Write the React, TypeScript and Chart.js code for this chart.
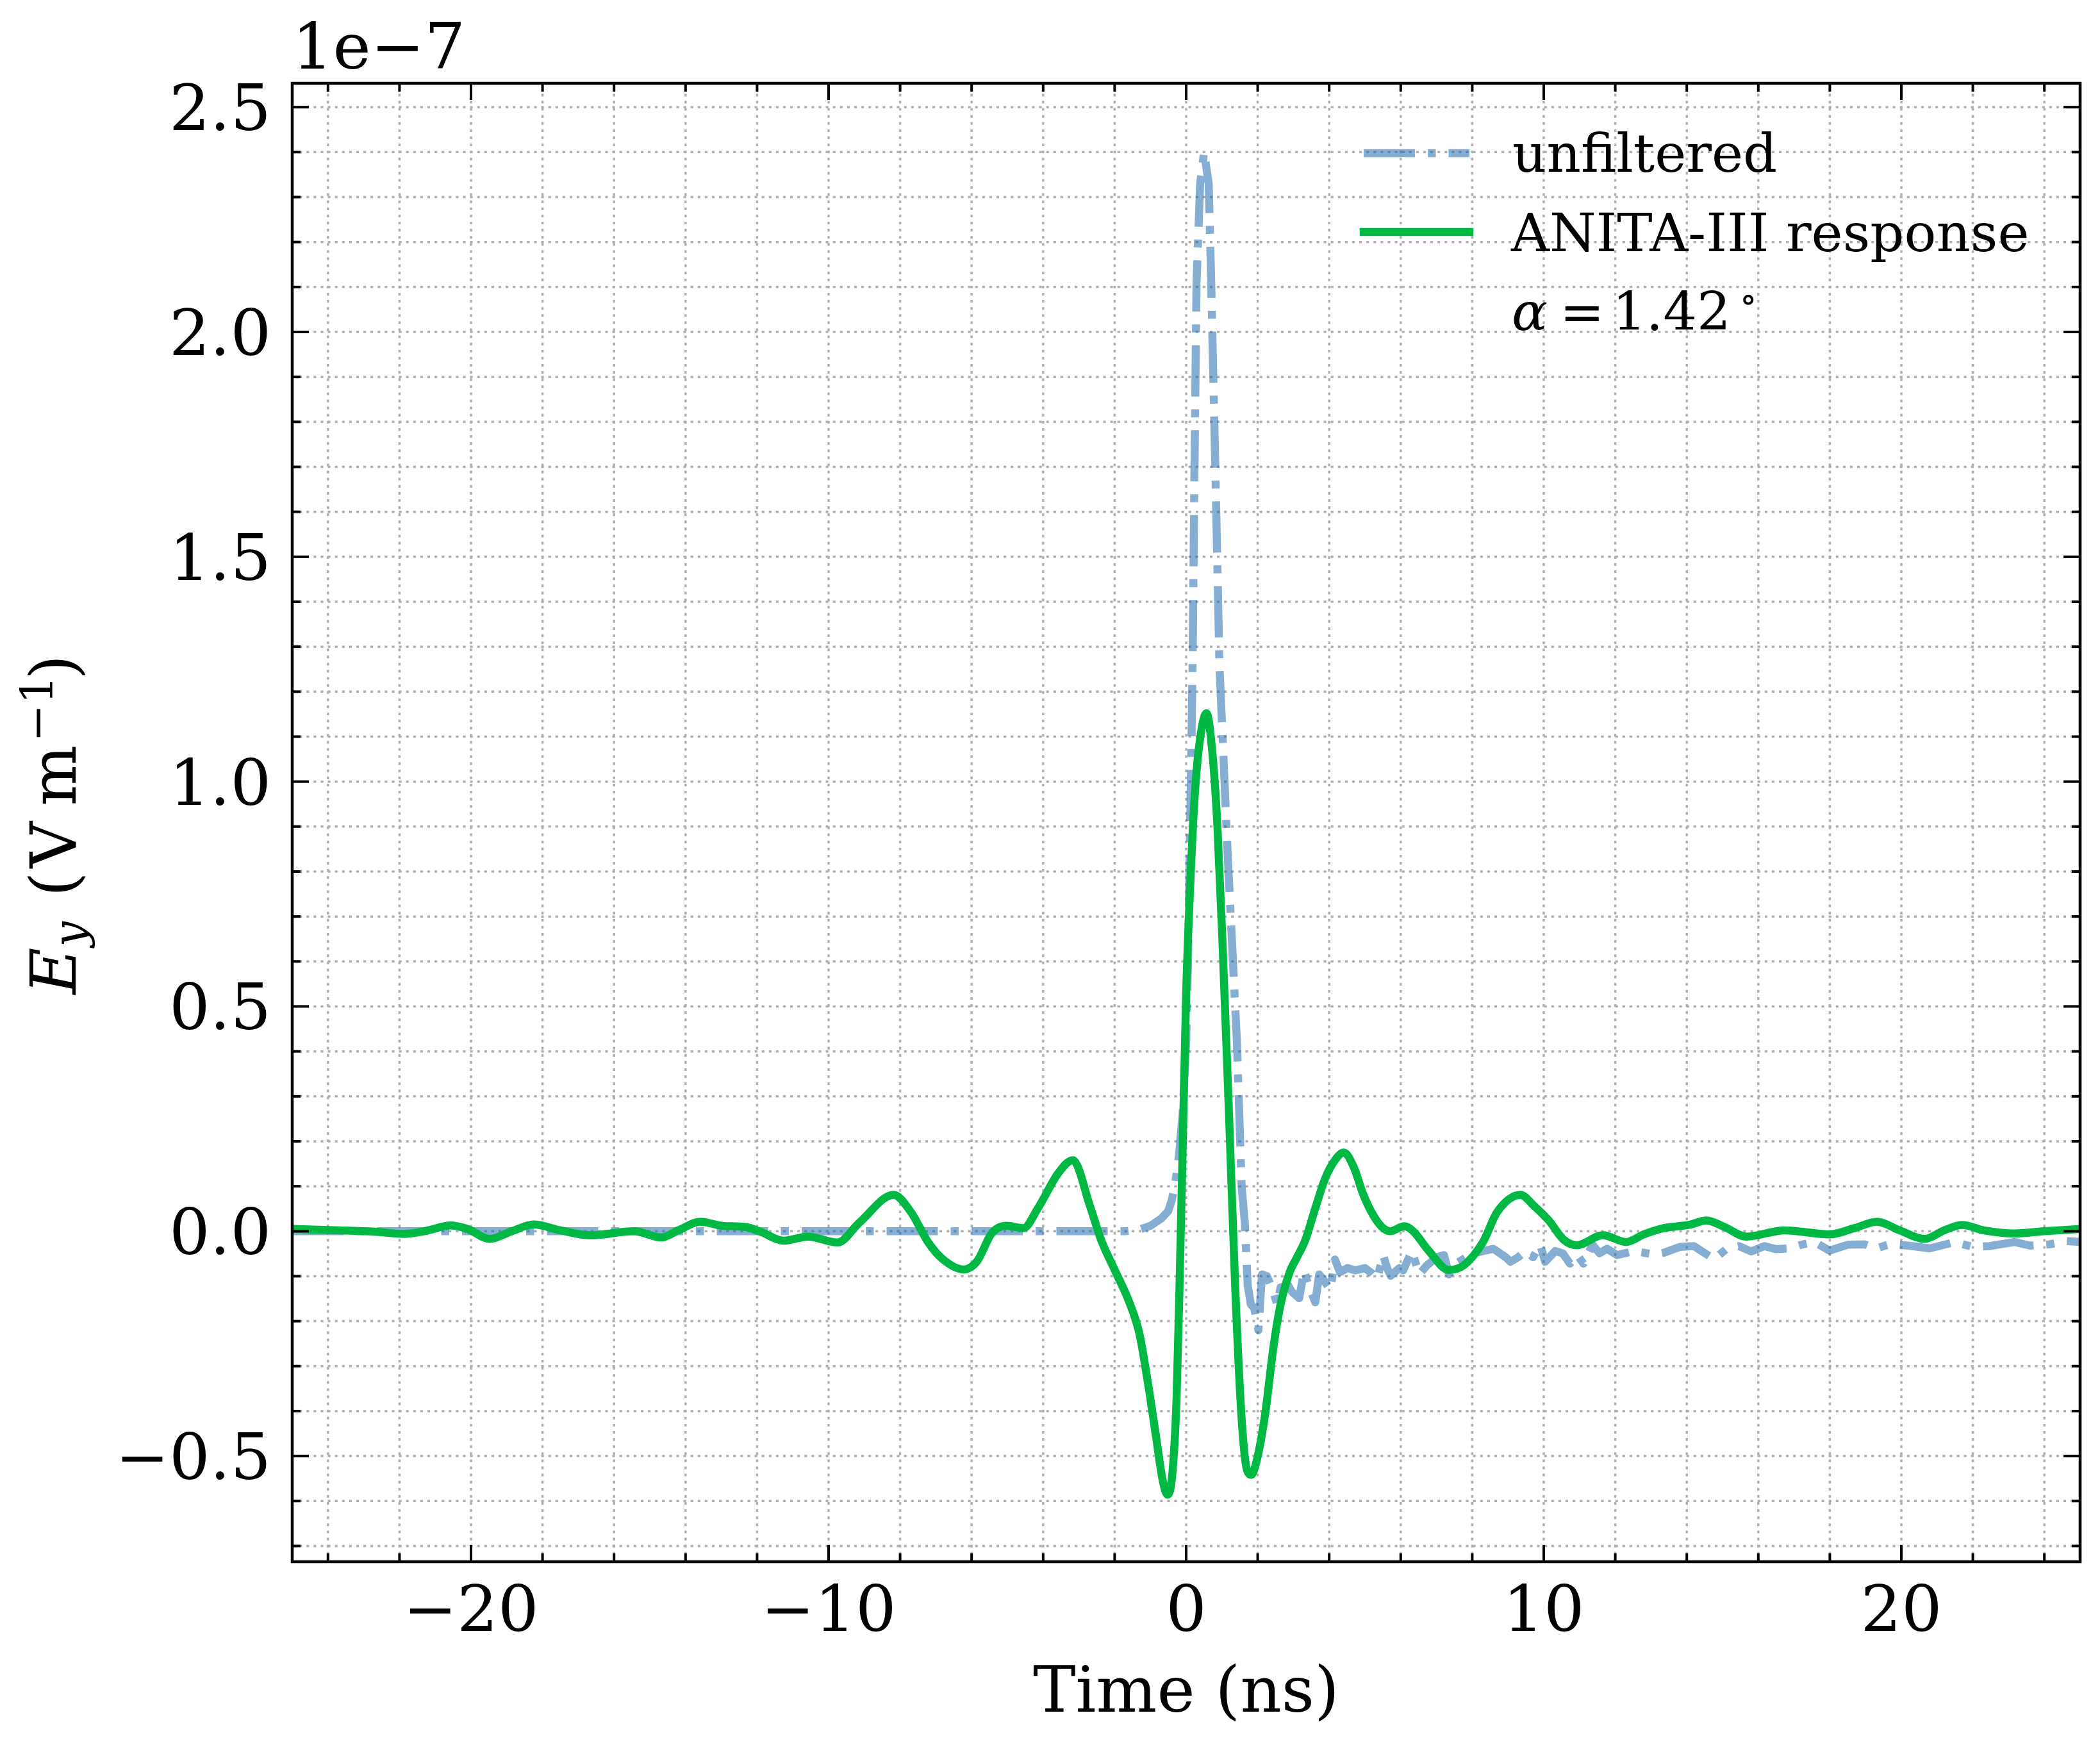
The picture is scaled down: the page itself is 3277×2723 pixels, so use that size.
import React, { useEffect, useRef } from 'react';
import { Chart, registerables } from 'chart.js';

Chart.register(...registerables);

// ---------- data (values in units of 1e-7 V/m, time in ns) ----------
const responseTime = [
  -25, -23.66, -22.7, -21.88, -21.2, -20.58, -20.1, -19.48, -18.86, -18.25, -17.5, -16.67, -15.44,
  -14.68, -14.2, -13.59, -12.97, -12.29, -11.88, -11.26, -10.58, -9.75, -9.14, -8.18, -7.7, -7.22,
  -6.81, -6.23, -5.85, -5.44, -5.03, -4.55, -4.14, -3.57, -3.17, -2.69, -2.39, -1.97, -1.61, -1.31,
  -1.08, -0.84, -0.66, -0.52, -0.39, -0.27, -0.18, -0.09, 0.0, 0.12, 0.24, 0.39, 0.57, 0.72, 0.87,
  1.02, 1.2, 1.37, 1.55, 1.7, 1.82, 1.97, 2.21, 2.44, 2.64, 2.9, 3.1, 3.33, 3.61, 3.89, 4.16, 4.41,
  4.7, 4.95, 5.37, 5.7, 6.1, 6.35, 6.78, 7.34, 7.76, 8.3, 8.7, 9.35, 9.72, 10.14, 10.56, 10.92, 11.65,
  12.31, 12.8, 13.36, 14.06, 14.55, 15.04, 15.67, 16.73, 17.99, 18.69, 19.32, 19.95, 20.65, 21.2,
  21.7, 22.3, 23.17, 24.0, 25,
];
const responseValue = [
  0.005, 0.002, -0.001, -0.006, 0.002, 0.013, 0.005, -0.017, 0.0, 0.015, 0.002, -0.009, 0.0,
  -0.014, 0.002, 0.021, 0.012, 0.009, -0.002, -0.021, -0.012, -0.025, 0.019, 0.081, 0.043, -0.024,
  -0.062, -0.085, -0.067, -0.005, 0.012, 0.007, 0.052, 0.13, 0.158, 0.056, -0.017, -0.091, -0.154, -0.227,
  -0.332, -0.458, -0.553, -0.586, -0.542, -0.375, -0.102, 0.214, 0.529, 0.781, 0.97, 1.096, 1.152, 1.075, 0.907,
  0.634, 0.256, -0.122, -0.416, -0.531, -0.542, -0.511, -0.406, -0.258, -0.163, -0.09, -0.058, -0.02, 0.051, 0.118, 0.158, 0.175,
  0.14, 0.082, 0.019, 0.0, 0.011, 0.0, -0.043, -0.086, -0.076, -0.024, 0.043, 0.081, 0.057, 0.024, -0.019, -0.031, -0.009,
  -0.024, -0.007, 0.007, 0.014, 0.024, 0.01, -0.012, 0.002, -0.007, 0.007, 0.021, 0.002, -0.017, 0.002,
  0.014, 0.002, -0.005, 0.0, 0.005,
];

const unfilteredTime = [
  -25, -20, -15, -10, -5, -1.7, -1.3, -1.0, -0.7, -0.5, -0.4, -0.3, -0.2, -0.1, 0.0, 0.05, 0.1, 0.18,
  0.23, 0.29, 0.39, 0.5, 0.63, 0.7, 0.82, 0.93, 1.16, 1.42, 1.55, 1.64, 1.72, 1.81, 1.9, 2.02, 2.12,
  2.26, 2.44, 2.54, 2.64, 2.85, 2.95, 3.16, 3.3, 3.4, 3.61, 3.72, 3.82, 4.03, 4.16, 4.3, 4.51, 4.72,
  5.0, 5.2, 5.34, 5.51, 5.62, 5.72, 5.96, 6.07, 6.31, 6.52, 6.72, 7.0, 7.21, 7.35, 7.55, 7.83, 8.04,
  8.31, 8.59, 8.94, 9.07, 9.28, 9.49, 9.7, 9.9, 10.04, 10.32, 10.53, 10.73, 10.94, 11.11, 11.36, 11.56,
  11.77, 12.05, 12.53, 13.1, 13.36, 13.8, 14.2, 14.76, 15.1, 15.46, 15.8, 16.17, 16.5, 16.87, 17.2,
  17.57, 17.99, 18.5, 18.97, 19.3, 19.67, 20.2, 20.79, 21.5, 22.0, 22.47, 23.17, 23.6, 24.15, 24.6, 25,
];
const unfilteredValue = [
  0.0, 0.0, 0.0, 0.0, 0.0, 0.0, 0.004, 0.012, 0.028, 0.045, 0.07, 0.11, 0.17, 0.26, 0.42, 0.6, 0.84, 1.26,
  1.68, 2.11, 2.33, 2.4, 2.33, 2.11, 1.68, 1.26, 0.84, 0.42, 0.1, 0.02, -0.12, -0.163, -0.17, -0.22, -0.096,
  -0.1, -0.134, -0.163, -0.125, -0.12, -0.134, -0.149, -0.087, -0.115, -0.158, -0.096, -0.106, -0.13, -0.063, -0.091, -0.082, -0.087,
  -0.082, -0.094, -0.106, -0.053, -0.082, -0.099, -0.082, -0.087, -0.044, -0.096, -0.077, -0.058, -0.053, -0.096, -0.072, -0.058, -0.049,
  -0.044, -0.039, -0.058, -0.068, -0.058, -0.044, -0.058, -0.03, -0.068, -0.044, -0.049, -0.072, -0.053, -0.072, -0.03, -0.049,
  -0.039, -0.053, -0.044, -0.052, -0.048, -0.035, -0.033, -0.062, -0.04, -0.033, -0.045, -0.033, -0.04, -0.038, -0.03,
  -0.024, -0.043, -0.03, -0.029, -0.038, -0.029, -0.032, -0.038, -0.024, -0.035, -0.033, -0.024, -0.032, -0.029, -0.022, -0.024,
];

const xMajorTicks = [-20, -10, 0, 10, 20];
const xTickLabels = ['\u221220', '\u221210', '0', '10', '20'];
const xMinorTicks = [-24, -22, -18, -16, -14, -12, -8, -6, -4, -2, 2, 4, 6, 8, 12, 14, 16, 18, 22, 24];
const yMajorTicks = [-0.5, 0, 0.5, 1.0, 1.5, 2.0, 2.5];
const yTickLabels = ['\u22120.5', '0.0', '0.5', '1.0', '1.5', '2.0', '2.5'];
const yMinorTicks = [
  -0.7, -0.6, -0.4, -0.3, -0.2, -0.1, 0.1, 0.2, 0.3, 0.4, 0.6, 0.7, 0.8, 0.9, 1.1, 1.2, 1.3, 1.4,
  1.6, 1.7, 1.8, 1.9, 2.1, 2.2, 2.3, 2.4,
];
const xRange = [-25, 25];
const yRange = [-0.735, 2.553];
const legendLabels = ['unfiltered', 'ANITA-III response'];
const offsetLabel = '1e\u22127';
const xTitle = 'Time (ns)';

const BLUE = 'rgba(12, 93, 165, 0.5)';
const GREEN = '#00B945';
const SERIF = "'DejaVu Serif', serif";
const LW = 12.5;
const DASHDOT = [80, 20, 12.5, 20];

const decorPlugin = {
  id: 'decor',
  beforeDatasetsDraw(chart: any) {
    const { ctx, chartArea: a, scales } = chart;
    const x = scales.x;
    const y = scales.y;
    ctx.save();
    ctx.beginPath();
    ctx.rect(a.left, a.top, a.right - a.left, a.bottom - a.top);
    ctx.clip();
    ctx.strokeStyle = '#b0b0b0';
    ctx.lineWidth = 3.5;
    ctx.setLineDash([4.2, 6.9]);
    ctx.lineCap = 'butt';
    for (const v of [...xMinorTicks, ...xMajorTicks]) {
      const px = x.getPixelForValue(v);
      ctx.beginPath();
      ctx.moveTo(px, a.bottom);
      ctx.lineTo(px, a.top);
      ctx.stroke();
    }
    for (const v of [...yMinorTicks, ...yMajorTicks]) {
      const py = y.getPixelForValue(v);
      ctx.beginPath();
      ctx.moveTo(a.left, py);
      ctx.lineTo(a.right, py);
      ctx.stroke();
    }
    ctx.restore();
  },
  afterDatasetsDraw(chart: any) {
    const { ctx, chartArea: a, scales } = chart;
    const x = scales.x;
    const y = scales.y;
    ctx.save();
    ctx.setLineDash([]);
    ctx.strokeStyle = '#000';
    ctx.lineCap = 'butt';
    const tick = (x1: number, y1: number, x2: number, y2: number) => {
      ctx.beginPath();
      ctx.moveTo(x1, y1);
      ctx.lineTo(x2, y2);
      ctx.stroke();
    };
    ctx.lineWidth = 4;
    const MAJ = 26;
    const MIN = 13;
    for (const v of xMajorTicks) {
      const px = x.getPixelForValue(v);
      tick(px, a.bottom, px, a.bottom - MAJ);
      tick(px, a.top, px, a.top + MAJ);
    }
    for (const v of xMinorTicks) {
      const px = x.getPixelForValue(v);
      tick(px, a.bottom, px, a.bottom - MIN);
      tick(px, a.top, px, a.top + MIN);
    }
    for (const v of yMajorTicks) {
      const py = y.getPixelForValue(v);
      tick(a.left, py, a.left + MAJ, py);
      tick(a.right, py, a.right - MAJ, py);
    }
    for (const v of yMinorTicks) {
      const py = y.getPixelForValue(v);
      tick(a.left, py, a.left + MIN, py);
      tick(a.right, py, a.right - MIN, py);
    }
    ctx.lineWidth = 4.5;
    ctx.strokeRect(a.left, a.top, a.right - a.left, a.bottom - a.top);

    ctx.fillStyle = '#000';
    ctx.font = `100px ${SERIF}`;
    ctx.textBaseline = 'alphabetic';
    ctx.textAlign = 'center';
    xMajorTicks.forEach((v, i) => {
      ctx.fillText(xTickLabels[i], x.getPixelForValue(v), a.bottom + 108);
    });
    ctx.textAlign = 'right';
    yMajorTicks.forEach((v, i) => {
      ctx.fillText(yTickLabels[i], a.left - 33, y.getPixelForValue(v) + 36);
    });
    ctx.textAlign = 'left';
    ctx.fillText(offsetLabel, a.left, 107);
    ctx.textAlign = 'center';
    ctx.fillText(xTitle, (a.left + a.right) / 2, 2671);

    // y title: E_y (V m^-1), rotated
    ctx.save();
    ctx.translate(118, (a.top + a.bottom) / 2 + 264);
    ctx.rotate(-Math.PI / 2);
    ctx.textAlign = 'left';
    ctx.font = `italic 100px ${SERIF}`;
    ctx.fillText('E', -4, 0);
    ctx.font = `italic 70px ${SERIF}`;
    ctx.fillText('y', 70, 15);
    ctx.font = `100px ${SERIF}`;
    ctx.fillText('(', 148, 0);
    ctx.fillText('V', 193, 0);
    ctx.fillText('m', 290, 0);
    ctx.font = `70px ${SERIF}`;
    ctx.fillText('\u22121', 390, -36);
    ctx.font = `100px ${SERIF}`;
    ctx.fillText(')', 487, 0);
    ctx.restore();

    // legend
    ctx.lineWidth = LW;
    ctx.strokeStyle = BLUE;
    ctx.setLineDash(DASHDOT);
    ctx.lineCap = 'butt';
    ctx.beginPath();
    ctx.moveTo(2128, 239);
    ctx.lineTo(2293, 239);
    ctx.stroke();
    ctx.setLineDash([]);
    ctx.strokeStyle = GREEN;
    ctx.lineCap = 'square';
    ctx.beginPath();
    ctx.moveTo(2128, 362);
    ctx.lineTo(2293, 362);
    ctx.stroke();

    ctx.fillStyle = '#000';
    ctx.textAlign = 'left';
    ctx.font = `83px ${SERIF}`;
    ctx.fillText(legendLabels[0], 2360, 268);
    ctx.fillText(legendLabels[1], 2358, 392);
    ctx.font = `italic 83px ${SERIF}`;
    ctx.fillText('\u03b1', 2359, 515);
    ctx.font = `83px ${SERIF}`;
    ctx.fillText('=', 2434, 515);
    ctx.fillText('1.42', 2516, 515);
    ctx.font = `58px ${SERIF}`;
    ctx.fillText('\u2218', 2714, 486);
    ctx.restore();
  },
};

export default function App() {
  const ref = useRef<HTMLCanvasElement | null>(null);
  useEffect(() => {
    document.body.style.margin = '0';
    document.body.style.overflow = 'hidden';
    const canvas = ref.current;
    if (!canvas) return;
    const chart = new Chart(canvas, {
      type: 'line',
      data: {
        datasets: [
          {
            label: legendLabels[1],
            data: responseTime.map((t, i) => ({ x: t, y: responseValue[i] })),
            borderColor: GREEN,
            borderWidth: LW,
            pointRadius: 0,
            fill: false,
            cubicInterpolationMode: 'monotone',
            borderJoinStyle: 'round',
            borderCapStyle: 'square',
            clip: 0,
            order: 0,
          },
          {
            label: legendLabels[0],
            data: unfilteredTime.map((t, i) => ({ x: t, y: unfilteredValue[i] })),
            borderColor: BLUE,
            borderWidth: LW,
            borderDash: DASHDOT,
            pointRadius: 0,
            fill: false,
            tension: 0,
            borderJoinStyle: 'round',
            borderCapStyle: 'butt',
            clip: 0,
            order: 1,
          },
        ],
      },
      options: {
        responsive: false,
        animation: false,
        devicePixelRatio: 1,
        layout: { padding: { left: 456, top: 130, right: 31, bottom: 286 } },
        plugins: { legend: { display: false }, tooltip: { enabled: false } },
        events: [],
        scales: {
          x: { type: 'linear', min: xRange[0], max: xRange[1], display: false },
          y: { type: 'linear', min: yRange[0], max: yRange[1], display: false },
        },
      } as any,
      plugins: [decorPlugin],
    });
    return () => chart.destroy();
  }, []);
  return <canvas ref={ref} width={3277} height={2723} style={{ display: 'block' }} />;
}
